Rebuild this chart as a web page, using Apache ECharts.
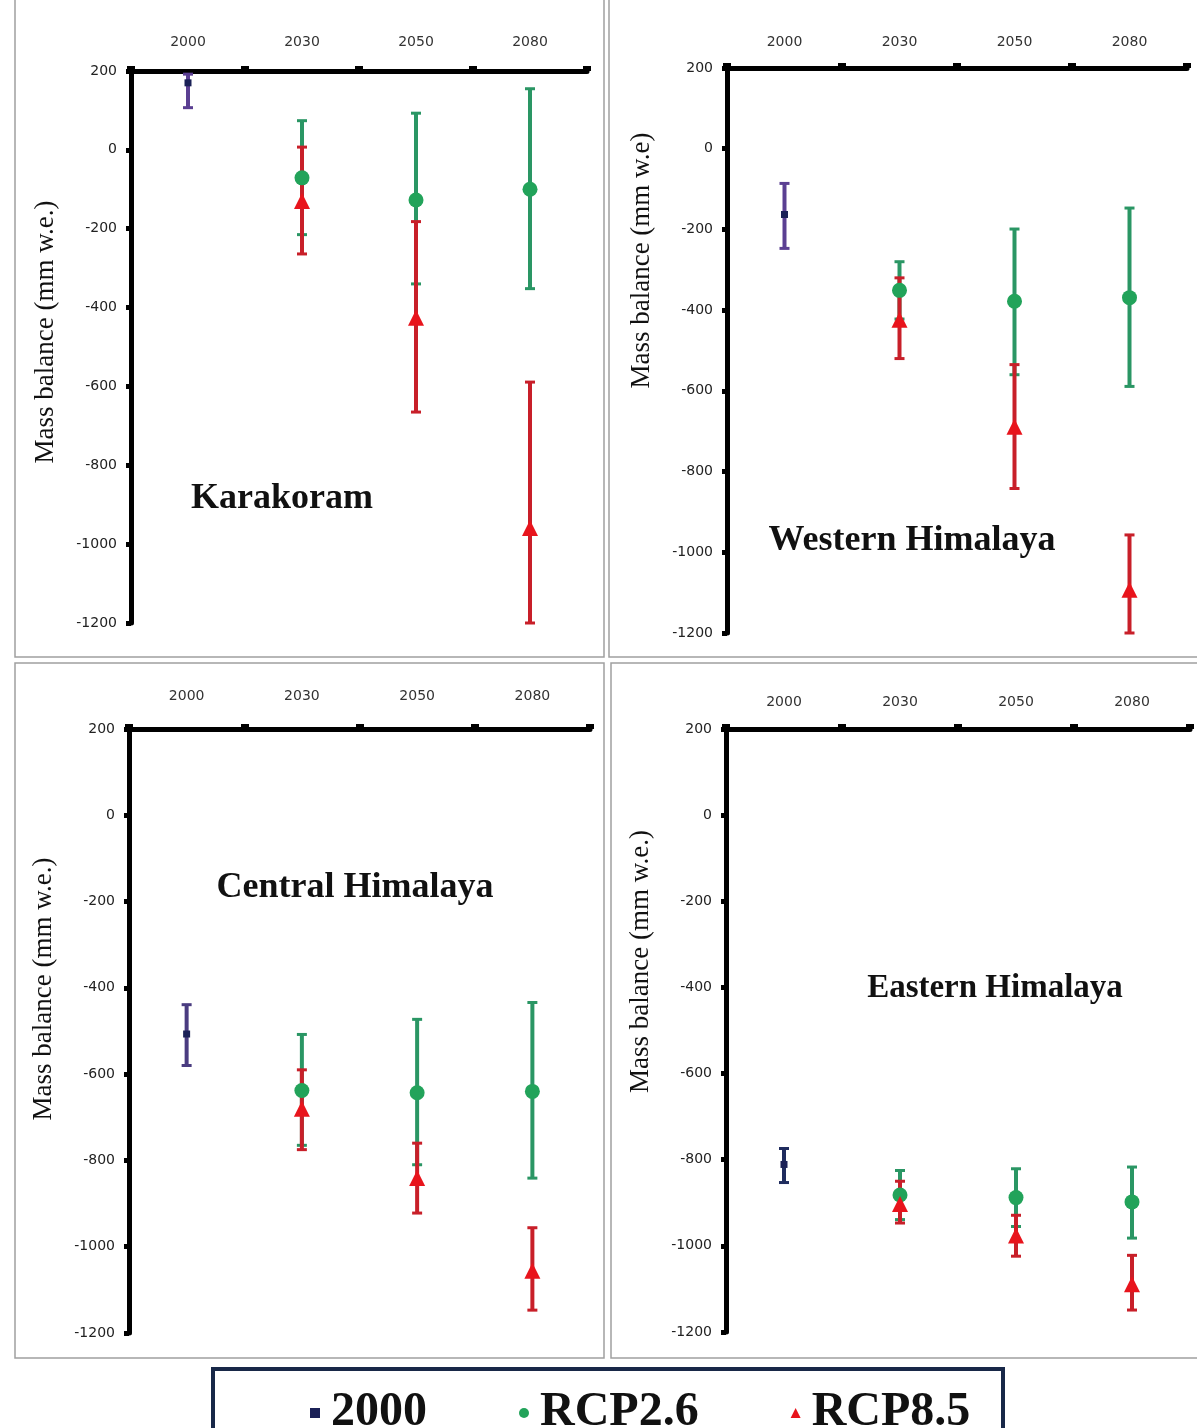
<!DOCTYPE html>
<html>
<head>
<meta charset="utf-8">
<script src="https://cdn.jsdelivr.net/npm/echarts@6/dist/echarts.min.js"></script>
<style>
  html, body { margin: 0; padding: 0; background: #fff; }
  #main { width: 1197px; height: 1428px; }
</style>
</head>
<body>
<div id="main"></div>
<script>
(function() {
    // categories and panels
    var years = ['2000', '2030', '2050', '2080'];
    var regions = ['Karakoram', 'Western Himalaya', 'Central Himalaya', 'Eastern Himalaya'];
    var axisNames = ['Mass balance (mm w.e.)', 'Mass balance (mm w.e)', 'Mass balance (mm w.e.)', 'Mass balance (mm w.e.)'];

    // 2000 baseline per region: mean, lower, upper
    var base2000Mean = [170, -163, -507, -811];
    var base2000Low = [107, -247, -580, -853];
    var base2000High = [192, -86, -439, -774];

    // RCP2.6 per region, for 2030 / 2050 / 2080
    var rcp26Mean = [[-71, -127, -100], [-351, -378, -369], [-638, -643, -640], [-882, -888, -898]];
    var rcp26Low = [[-215, -340, -352], [-422, -560, -589], [-765, -810, -841], [-939, -955, -982]];
    var rcp26High = [[74, 93, 155], [-280, -199, -147], [-508, -473, -434], [-825, -821, -817]];

    // RCP8.5 per region, for 2030 / 2050 / 2080
    var rcp85Mean = [[-130, -426, -959], [-424, -689, -1093], [-680, -841, -1056], [-903, -976, -1089]];
    var rcp85Low = [[-264, -665, -1200], [-520, -842, -1200], [-775, -922, -1147], [-947, -1024, -1149]];
    var rcp85High = [[7, -182, -589], [-320, -535, -957], [-590, -760, -956], [-850, -929, -1022]];

    // y ticks
    var yMin = -1200, yMax = 200, yStep = 200;

    // layout of the four panels
    var grids = [
        { left: 131, top: 71, width: 456, height: 552 },
        { left: 727, top: 68, width: 460, height: 565 },
        { left: 129, top: 729, width: 461, height: 604 },
        { left: 726, top: 729, width: 464, height: 603 }
    ];
    var xLabelMargin = [22, 19, 26, 20];
    var namePad = [30, 180, 84, 138];
    var titlePos = [[282, 499], [912, 541], [355, 888], [995, 988]];
    var titleSize = [36, 36, 36, 33];
    var frames = [[15, -2, 589, 659], [609, -2, 590, 659], [15, 663, 589, 695], [611, 663, 588, 695]];
    var bar2000Color = ['#5b3f92', '#5b3f92', '#4a3c80', '#1f2c5e'];

    var c2000 = '#1b2157', c26 = '#22a35a', c26bar = '#2a9664', c85 = '#e8141c', c85bar = '#c81f29';

    function errorBar(color) {
        return function(params, api) {
            var lo = api.coord([api.value(0), api.value(1)]);
            var hi = api.coord([api.value(0), api.value(2)]);
            var w = 5;
            return {
                type: 'group',
                children: [
                    { type: 'line', shape: { x1: lo[0], y1: lo[1], x2: hi[0], y2: hi[1] }, style: { stroke: color, lineWidth: 4 } },
                    { type: 'line', shape: { x1: lo[0] - w, y1: lo[1], x2: lo[0] + w, y2: lo[1] }, style: { stroke: color, lineWidth: 3 } },
                    { type: 'line', shape: { x1: hi[0] - w, y1: hi[1], x2: hi[0] + w, y2: hi[1] }, style: { stroke: color, lineWidth: 3 } }
                ]
            };
        };
    }

    var xAxes = [], yAxes = [], series = [], graphics = [];

    regions.forEach(function(region, i) {
        xAxes.push({
            type: 'category',
            gridIndex: i,
            position: 'top',
            data: years,
            boundaryGap: true,
            axisLine: { onZero: false, lineStyle: { color: '#000', width: 5 } },
            axisTick: { show: true, length: 5, lineStyle: { color: '#000', width: 8 } },
            axisLabel: { margin: xLabelMargin[i], color: '#333', fontSize: 14, fontFamily: 'DejaVu Sans' },
            splitLine: { show: false }
        });
        yAxes.push({
            type: 'value',
            gridIndex: i,
            min: yMin,
            max: yMax,
            interval: yStep,
            name: axisNames[i],
            nameLocation: 'middle',
            nameRotate: 90,
            nameGap: 72,
            nameTextStyle: {
                fontFamily: 'Liberation Serif',
                fontSize: 27,
                color: '#111',
                padding: [0, 0, 0, namePad[i]]
            },
            axisLine: { show: true, lineStyle: { color: '#000', width: 5 } },
            axisTick: { show: true, length: 5, lineStyle: { color: '#000', width: 5 } },
            axisLabel: {
                margin: 14, color: '#222', fontSize: 14, fontFamily: 'DejaVu Sans',
                formatter: function(v) { return String(v); }
            },
            splitLine: { show: false }
        });

        var b26 = [], b85 = [], p26 = [], p85 = [];
        for (var k = 0; k < 3; k++) {
            b26.push([k + 1, rcp26Low[i][k], rcp26High[i][k]]);
            b85.push([k + 1, rcp85Low[i][k], rcp85High[i][k]]);
            p26.push([k + 1, rcp26Mean[i][k]]);
            p85.push([k + 1, rcp85Mean[i][k]]);
        }

        series.push({
            name: '2000', type: 'custom', xAxisIndex: i, yAxisIndex: i,
            renderItem: errorBar(bar2000Color[i]), encode: { x: 0, y: [1, 2] },
            itemStyle: { color: c2000 },
            data: [[0, base2000Low[i], base2000High[i]]]
        });
        series.push({
            name: 'RCP2.6', type: 'custom', xAxisIndex: i, yAxisIndex: i,
            renderItem: errorBar(c26bar), encode: { x: 0, y: [1, 2] },
            itemStyle: { color: c26 },
            data: b26
        });
        series.push({
            name: 'RCP8.5', type: 'custom', xAxisIndex: i, yAxisIndex: i,
            renderItem: errorBar(c85bar), encode: { x: 0, y: [1, 2] },
            itemStyle: { color: c85 },
            data: b85
        });
        series.push({
            name: '2000', type: 'scatter', xAxisIndex: i, yAxisIndex: i,
            symbol: 'rect', symbolSize: 7, itemStyle: { color: c2000, opacity: 1 },
            data: [[0, base2000Mean[i]]]
        });
        series.push({
            name: 'RCP2.6', type: 'scatter', xAxisIndex: i, yAxisIndex: i,
            symbol: 'circle', symbolSize: 15, itemStyle: { color: c26, opacity: 1 },
            data: p26
        });
        series.push({
            name: 'RCP8.5', type: 'scatter', xAxisIndex: i, yAxisIndex: i,
            symbol: 'triangle', symbolSize: 16, itemStyle: { color: c85, opacity: 1 },
            data: p85
        });

        graphics.push({
            type: 'rect', z: -10, silent: true,
            shape: { x: frames[i][0], y: frames[i][1], width: frames[i][2], height: frames[i][3] },
            style: { fill: 'none', stroke: '#a0a0a0', lineWidth: 1.5 }
        });
        graphics.push({
            type: 'text', z: 10, silent: true,
            x: titlePos[i][0], y: titlePos[i][1],
            style: {
                text: region, textAlign: 'center', textVerticalAlign: 'middle',
                font: 'bold ' + titleSize[i] + 'px "Liberation Serif"', fill: '#111'
            }
        });
    });

    // legend frame
    graphics.push({
        type: 'rect', z: -5, silent: true,
        shape: { x: 213, y: 1369, width: 790, height: 70 },
        style: { fill: '#fff', stroke: '#182848', lineWidth: 4 }
    });

    var myChart = echarts.init(document.getElementById('main'));
    myChart.setOption({
        animation: false,
        backgroundColor: '#fff',
        grid: grids,
        xAxis: xAxes,
        yAxis: yAxes,
        legend: {
            left: 305,
            top: 1384,
            itemGap: 92,
            itemWidth: 10,
            itemHeight: 10,
            textStyle: {
                fontFamily: 'Liberation Serif', fontWeight: 'bold', fontSize: 48, color: '#111',
                padding: [0, 0, 0, 6]
            },
            data: [
                { name: '2000', icon: 'rect', itemStyle: { color: c2000 } },
                { name: 'RCP2.6', icon: 'circle', itemStyle: { color: c26 } },
                { name: 'RCP8.5', icon: 'triangle', itemStyle: { color: c85 } }
            ]
        },
        graphic: graphics,
        series: series
    });

    window.addEventListener('resize', function() {
        myChart.resize();
    });
})();
</script>
</body>
</html>
